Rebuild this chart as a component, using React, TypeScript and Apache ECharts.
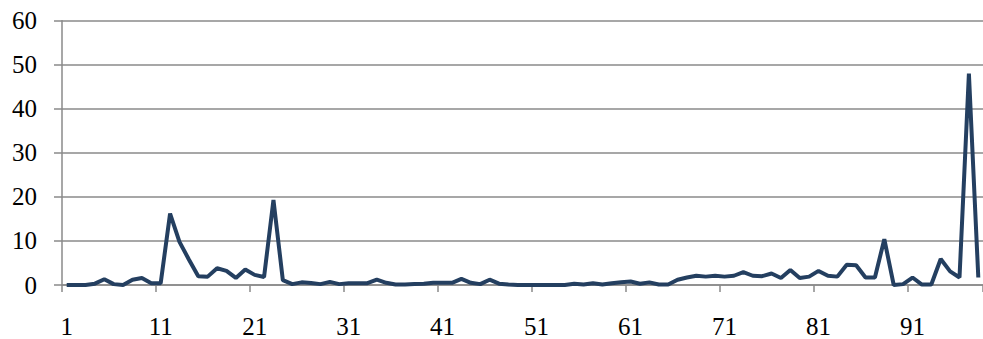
import React, { useEffect, useRef } from "react";
import * as echarts from "echarts";

const categories: string[] = Array.from({ length: 98 }, (_, i) => String(i + 1));

const values: number[] = [
  0, 0, 0, 0.3, 1.3, 0.2, 0, 1.2, 1.6, 0.4,
  0.4, 16.2, 9.8, 5.8, 2.0, 1.9, 3.8, 3.2, 1.6, 3.5,
  2.3, 1.8, 19.3, 1.1, 0.2, 0.6, 0.45, 0.2, 0.7, 0.2,
  0.4, 0.4, 0.4, 1.2, 0.5, 0.1, 0.1, 0.2, 0.3, 0.5,
  0.5, 0.5, 1.4, 0.5, 0.2, 1.2, 0.3, 0.1, 0, 0,
  0, 0, 0, 0, 0.3, 0.1, 0.4, 0.1, 0.4, 0.6,
  0.8, 0.3, 0.6, 0.1, 0.1, 1.2, 1.7, 2.1, 1.9, 2.1,
  1.9, 2.1, 2.9, 2.1, 2.0, 2.6, 1.6, 3.4, 1.6, 1.9,
  3.2, 2.1, 1.9, 4.6, 4.5, 1.7, 1.7, 10.4, 0, 0.2,
  1.7, 0.1, 0.1, 5.9, 3.1, 1.7, 48.0, 1.7,
];

const yMin = 0;
const yMax = 60;
const yStep = 10;

export default function App() {
  const ref = useRef<HTMLDivElement>(null);
  useEffect(() => {
    if (!ref.current) return;
    const chart = echarts.init(ref.current, null, { renderer: "svg" });
    const font = "Times New Roman, Liberation Serif, serif";
    chart.setOption({
      animation: false,
      grid: { left: 62, right: 0, top: 20.7, bottom: 53 },
      xAxis: {
        type: "category",
        data: categories,
        boundaryGap: true,
        axisLine: { lineStyle: { color: "#8a8a8a", width: 1.5 } },
        axisTick: { show: true, length: 7, lineStyle: { color: "#8a8a8a", width: 1.5 } },
        axisLabel: {
          interval: 9,
          margin: 29,
          color: "#000",
          fontSize: 25,
          fontFamily: font,
        },
        splitLine: { show: false },
      },
      yAxis: {
        type: "value",
        min: yMin,
        max: yMax,
        interval: yStep,
        axisLine: { show: true, lineStyle: { color: "#8a8a8a", width: 1.5 } },
        axisTick: { show: true, length: 8, lineStyle: { color: "#8a8a8a", width: 1.5 } },
        axisLabel: {
          margin: 25,
          color: "#000",
          fontSize: 25,
          fontFamily: font,
        },
        splitLine: { show: true, lineStyle: { color: "#8a8a8a", width: 1.5 } },
      },
      series: [
        {
          type: "line",
          data: values,
          symbol: "none",
          lineStyle: { color: "#243F60", width: 4 },
        },
      ],
    });
    return () => chart.dispose();
  }, []);
  return (
    <div
      ref={ref}
      style={{ position: "fixed", left: 0, top: 0, width: 983, height: 339, background: "#fff" }}
    />
  );
}
